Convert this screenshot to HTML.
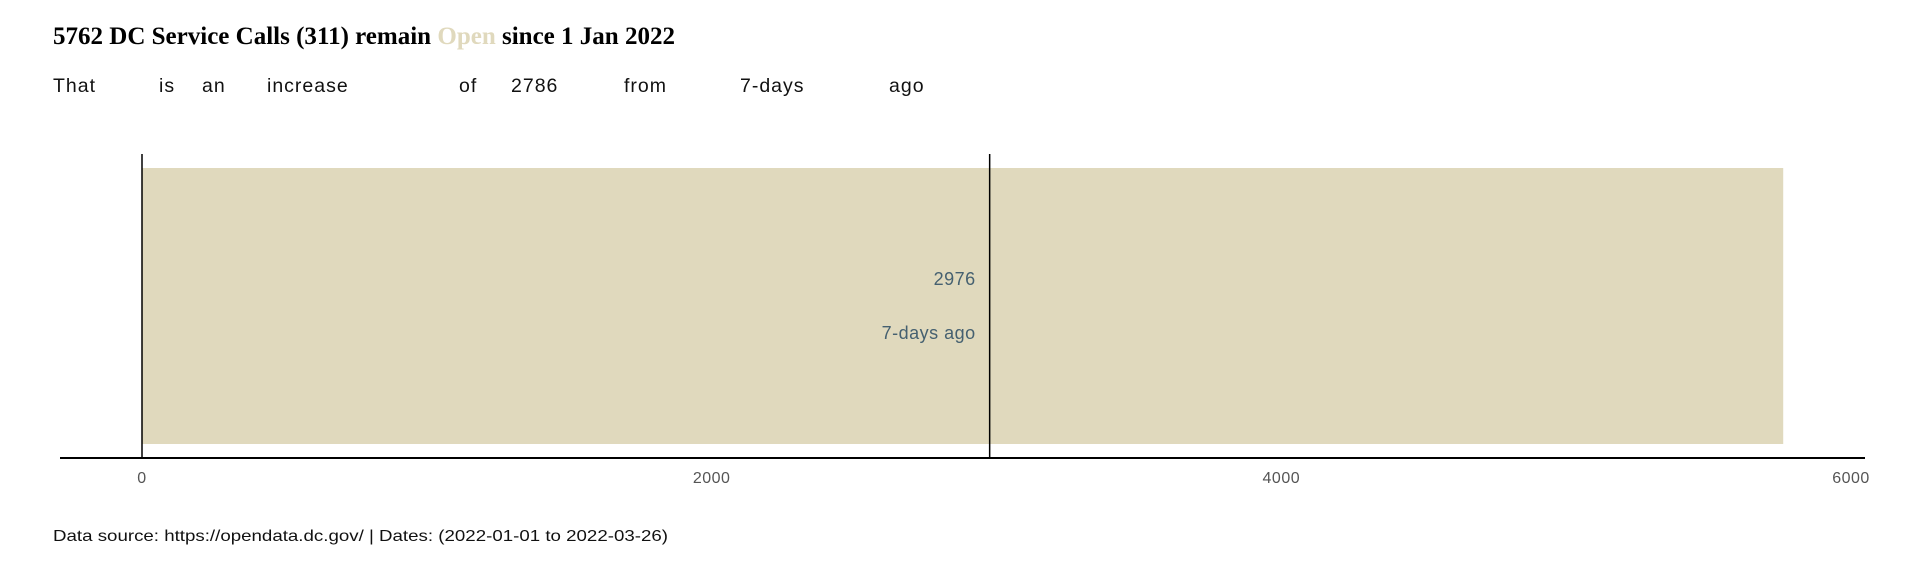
<!DOCTYPE html>
<html><head><meta charset="utf-8"><style>
body{margin:0;background:#fff;}
svg{display:block;font-family:"Liberation Sans",sans-serif;}
</style></head><body>
<svg width="1920" height="576" viewBox="0 0 1920 576">
<text x="53" y="44" font-family="Liberation Serif, serif" font-weight="bold" font-size="25" textLength="622" lengthAdjust="spacingAndGlyphs"><tspan id="tv">5762</tspan> DC Service Calls (311) remain <tspan fill="#e0d9bd">Open</tspan> since 1 Jan 2022</text>
<g id="sub" font-size="19.5" letter-spacing="1" fill="#111"></g>
<g id="plot"></g>
<text x="53" y="541" font-size="16" fill="#111" textLength="615" lengthAdjust="spacingAndGlyphs">Data source: https://opendata.dc.gov/ | Dates: (2022-01-01 to 2022-03-26)</text>
</svg>
<script>
const categories=["Open"];
const currentValues=[5762];
const priorValues=[2976];
const increaseValues=[2786];
const tickLabels=[0,2000,4000,6000];
const subWords=["That","is","an","increase","of",String(increaseValues[0]),"from","7-days","ago"];
const subX=[53,159,202,267,459,511,624,740,889];
const NS="http://www.w3.org/2000/svg";
const x=v=>142+v*(1851-142)/6000;
const sub=document.getElementById('sub');
subWords.forEach((w,i)=>{const t=document.createElementNS(NS,'text');t.setAttribute('x',subX[i]);t.setAttribute('y',92);t.textContent=w;


sub.appendChild(t);});
const p=document.getElementById('plot');
function mk(tag,attrs){const e=document.createElementNS(NS,tag);for(const k in attrs)e.setAttribute(k,attrs[k]);p.appendChild(e);return e;}
const bar=mk('rect',{x:x(0),y:168,width:x(currentValues[0])-x(0),height:276,fill:'#e0d9bd'});


const y0=mk('line',{x1:x(0),x2:x(0),y1:154,y2:458,stroke:'#000','stroke-width':1.5});


const ref=mk('line',{x1:x(priorValues[0]),x2:x(priorValues[0]),y1:154,y2:458,stroke:'#000','stroke-width':1.5});


const ax=mk('line',{x1:60,x2:1865,y1:458,y2:458,stroke:'#000','stroke-width':2});


const l1=mk('text',{x:x(priorValues[0])-14,y:285,'text-anchor':'end','font-size':18,'letter-spacing':0.5,fill:'#456070'});l1.textContent=priorValues[0];


const l2=mk('text',{x:x(priorValues[0])-14,y:339,'text-anchor':'end','font-size':18,'letter-spacing':0.5,fill:'#456070'});l2.textContent='7-days ago';


tickLabels.forEach(v=>{const t=mk('text',{x:x(v),y:483,'text-anchor':'middle','font-size':16,'letter-spacing':0.5,fill:'#555'});t.textContent=v;

});
document.getElementById('tv').textContent=currentValues[0];
</script>
</body></html>
